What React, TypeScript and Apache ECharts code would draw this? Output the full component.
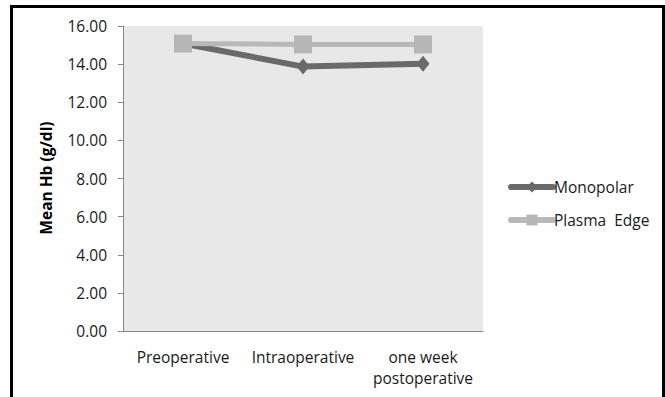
import React, { useEffect, useRef } from "react";
import * as echarts from "echarts";

const categories = ["Preoperative", "Intraoperative", "one week\npostoperative"];
const monopolar = [15.08, 13.87, 14.02];
const plasmaEdge = [15.08, 15.03, 15.03];
const seriesNames = ["Monopolar", "Plasma  Edge"];
const yTicks = { min: 0, max: 16, interval: 2 };

export default function App() {
  const ref = useRef<HTMLDivElement>(null);
  useEffect(() => {
    document.body.style.margin = "0";
    const chart = echarts.init(ref.current!, null, { renderer: "svg" });
    const font = "'Open Sans', 'Liberation Sans', sans-serif";
    chart.setOption({
      animation: false,
      backgroundColor: "#ffffff",
      grid: {
        left: 123,
        top: 26,
        right: 182,
        bottom: 66,
        show: true,
        backgroundColor: "#e8e8e8",
        borderWidth: 0,
      },
      xAxis: {
        type: "category",
        data: categories,
        boundaryGap: true,
        axisLine: { lineStyle: { color: "#868686", width: 1 } },
        axisTick: { show: false },
        axisLabel: {
          color: "#1a1a1a",
          fontFamily: font,
          fontSize: 15.5,
          margin: 15,
          lineHeight: 21,
          interval: 0,
        },
      },
      yAxis: {
        type: "value",
        min: yTicks.min,
        max: yTicks.max,
        interval: yTicks.interval,
        axisLine: { show: true, lineStyle: { color: "#868686", width: 1 } },
        axisTick: { show: true, length: 5, lineStyle: { color: "#868686" } },
        splitLine: { show: false },
        axisLabel: {
          color: "#1a1a1a",
          fontFamily: font,
          fontSize: 15.5,
          margin: 16,
          formatter: (v: number) => v.toFixed(2),
        },
      },
      legend: {
        orient: "vertical",
        left: 503,
        top: 174,
        itemWidth: 42,
        itemHeight: 14,
        itemGap: 17,
        lineStyle: { width: 6, cap: "round" },
        textStyle: { color: "#1a1a1a", fontFamily: font, fontSize: 15.5, padding: [0, 0, 0, -4] },
        data: seriesNames,
      },
      series: [
        {
          name: seriesNames[0],
          type: "line",
          data: monopolar,
          symbol: "diamond",
          symbolSize: [13, 16],
          lineStyle: { color: "#6a6a6a", width: 6, cap: "round" },
          itemStyle: { color: "#6a6a6a" },
        },
        {
          name: seriesNames[1],
          type: "line",
          data: plasmaEdge,
          symbol: "rect",
          symbolSize: [18, 18],
          lineStyle: { color: "#b8b8b8", width: 5, cap: "round" },
          itemStyle: { color: "#b6b6b6" },
        },
      ],
      graphic: [
        {
          type: "rect",
          shape: { x: 11.5, y: 6.5, width: 652, height: 420 },
          style: { fill: "none", stroke: "#000000", lineWidth: 3 },
          silent: true,
        },
        {
          type: "text",
          x: 46,
          y: 178,
          rotation: Math.PI / 2,
          style: {
            text: "Mean Hb (g/dl)",
            fill: "#000000",
            font: "bold 15.5px " + font,
            align: "center",
            verticalAlign: "middle",
          },
        },
      ],
    });
    return () => chart.dispose();
  }, []);
  return <div ref={ref} style={{ width: 665, height: 397 }} />;
}
